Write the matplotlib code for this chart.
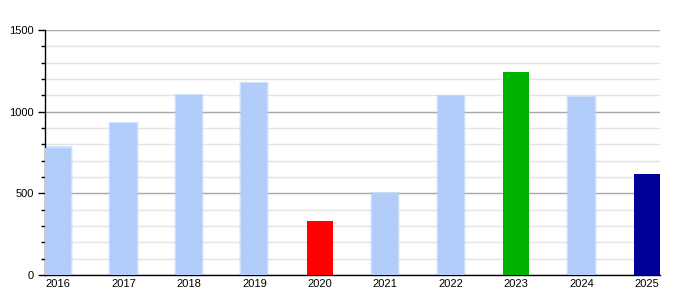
import numpy as np
import matplotlib.pyplot as plt
from matplotlib.ticker import MultipleLocator

plt.rcParams["font.family"] = ["Liberation Sans", "DejaVu Sans"]

years = ["2016", "2017", "2018", "2019", "2020", "2021", "2022", "2023", "2024", "2025"]
values = [780, 930, 1100, 1175, 330, 500, 1095, 1240, 1090, 620]
colors = ["#b3cdfb", "#b3cdfb", "#b3cdfb", "#b3cdfb", "#ff0000",
          "#b3cdfb", "#b3cdfb", "#00b300", "#b3cdfb", "#000099"]

fig = plt.figure(figsize=(6.75, 3.0), dpi=100)
ax = fig.add_axes([45/675, 25/300, 615/675, 245/300])

x = np.arange(len(years))

# soft glow around the light blue bars
for xi, v, c in zip(x, values, colors):
    if c == "#b3cdfb":
        for w, a in [(0.46, 0.25), (0.43, 0.45)]:
            ax.bar(xi, v + 8, width=w, color=c, alpha=a, zorder=2, linewidth=0)

ax.bar(x, values, width=0.4, color=colors, zorder=3, linewidth=0)

ax.set_xlim(-0.2, 9.2)
ax.set_ylim(0, 1500)
ax.set_xticks(x)
ax.set_xticklabels(years)
ax.yaxis.set_major_locator(MultipleLocator(500))
ax.yaxis.set_minor_locator(MultipleLocator(100))

ax.grid(axis="y", which="major", color="#a8a8a8", linewidth=1, zorder=0)
ax.grid(axis="y", which="minor", color="#e4e4e4", linewidth=1, zorder=0)
ax.set_axisbelow(True)

for s in ["top", "right"]:
    ax.spines[s].set_visible(False)
ax.spines["left"].set_linewidth(1)
ax.spines["bottom"].set_linewidth(1)

ax.tick_params(axis="x", length=0, pad=3, labelsize=8)
ax.tick_params(axis="y", which="major", length=5, width=1, pad=3, labelsize=8)
ax.tick_params(axis="y", which="minor", length=3, width=1)

fig.savefig("out.png", dpi=100)
